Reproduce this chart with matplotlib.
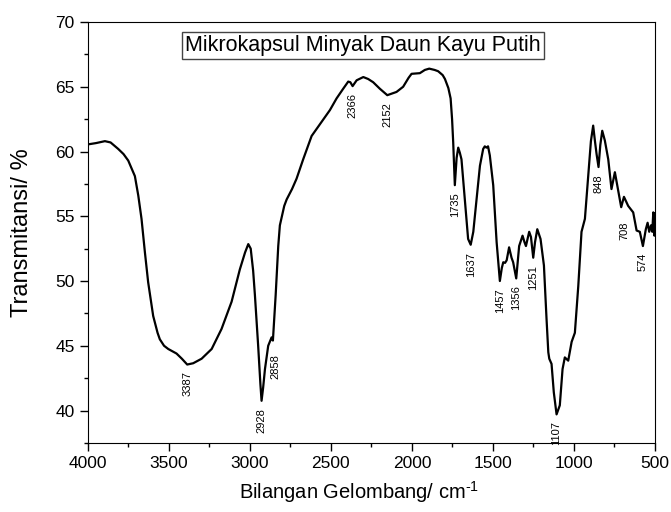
import numpy as np
import matplotlib
matplotlib.use("Agg")
import matplotlib.pyplot as plt
from matplotlib.ticker import MultipleLocator

plt.rcParams['font.family'] = ['Liberation Sans', 'DejaVu Sans']
plt.rcParams['mathtext.default'] = 'regular'

# FTIR spectrum
wavenumber = [4000, 3950, 3895, 3860, 3813, 3780, 3751, 3710, 3689, 3669,
              3648, 3628, 3597, 3570, 3556, 3530, 3504, 3453, 3420, 3387,
              3350, 3298, 3236, 3175, 3113, 3062, 3030, 3010, 2995, 2980,
              2969, 2949, 2935, 2928, 2918, 2907, 2887, 2866, 2858, 2850,
              2841, 2825, 2815, 2788, 2773, 2740, 2712, 2671, 2619, 2568,
              2506, 2465, 2424, 2393, 2380, 2366, 2341, 2300, 2270, 2239,
              2198, 2152, 2095, 2054, 2020, 2002, 1951, 1920, 1893, 1860,
              1838, 1810, 1796, 1775, 1761, 1752, 1745, 1735, 1724, 1714,
              1704, 1694, 1673, 1653, 1637, 1621, 1601, 1580, 1560, 1550,
              1540, 1530, 1519, 1498, 1477, 1457, 1445, 1436, 1425, 1415,
              1400, 1385, 1375, 1356, 1338, 1317, 1305, 1296, 1276, 1265,
              1251, 1240, 1226, 1206, 1185, 1169, 1158, 1152, 1138, 1124,
              1107, 1087, 1070, 1056, 1035, 1014, 994, 973, 953, 932,
              912, 895, 881, 870, 860, 848, 837, 825, 809, 788,
              768, 747, 727, 708, 691, 665, 634, 613, 593, 574,
              556, 545, 535, 524, 516, 510, 503, 500]
transmittance = [60.55, 60.65, 60.8, 60.7, 60.2, 59.8, 59.3, 58.1, 56.6, 54.8,
                 52.2, 49.9, 47.3, 46.0, 45.5, 45.0, 44.75, 44.4, 44.0, 43.55,
                 43.65, 44.0, 44.75, 46.3, 48.4, 50.9, 52.2, 52.85, 52.5, 50.8,
                 48.9, 45.0, 42.0, 40.75, 41.8, 43.2, 45.0, 45.65, 45.4, 47.0,
                 48.9, 52.7, 54.3, 55.8, 56.3, 57.1, 57.9, 59.4, 61.2, 62.1,
                 63.2, 64.1, 64.85, 65.4, 65.35, 65.05, 65.5, 65.75, 65.6, 65.35,
                 64.85, 64.35, 64.6, 65.0, 65.7, 66.0, 66.05, 66.3, 66.4, 66.3,
                 66.2, 65.9, 65.6, 64.9, 64.1, 62.5, 60.7, 57.4, 59.5, 60.3,
                 59.9, 59.4, 56.3, 53.25, 52.8, 53.8, 56.3, 58.9, 60.2, 60.4,
                 60.3, 60.4, 59.7, 57.4, 53.0, 50.0, 51.0, 51.45, 51.4, 51.6,
                 52.6, 51.8, 51.45, 50.2, 52.7, 53.5, 53.0, 52.7, 53.8, 53.4,
                 51.8, 53.0, 54.0, 53.25, 51.2, 47.1, 44.5, 44.0, 43.6, 41.4,
                 39.7, 40.4, 43.2, 44.1, 43.85, 45.3, 46.0, 49.6, 53.8, 54.8,
                 58.1, 60.8, 62.0, 60.8, 59.8, 58.8, 60.5, 61.6, 60.85, 59.4,
                 57.1, 58.4, 57.0, 55.7, 56.5, 55.8, 55.3, 53.9, 53.8, 52.7,
                 54.0, 54.5, 53.8, 54.3, 53.8, 55.3, 53.5, 55.2]

peak_labels = [3387, 2928, 2858, 2366, 2152, 1735, 1637, 1457, 1356, 1251,
               1107, 848, 708, 574]

title_text = "Mikrokapsul Minyak Daun Kayu Putih"

fig = plt.figure(figsize=(6.71, 5.12), dpi=100)
ax = fig.add_axes([0.131, 0.135, 0.845, 0.822])

ax.plot(wavenumber, transmittance, color='black', lw=1.6)

# peak annotations, rotated, just below each band
for wn in peak_labels:
    t = transmittance[wavenumber.index(wn)]
    dy = -14 if wn in (2858, 708) else -7
    dx = 3 if wn in (2858, 708) else 0
    ax.annotate(str(wn), xy=(wn, t), xytext=(dx, dy), textcoords='offset pixels',
                rotation=90, ha='center', va='top', fontsize=8, annotation_clip=False)

ax.set_xlim(4000, 500)
ax.set_ylim(37.5, 70)
ax.xaxis.set_major_locator(MultipleLocator(500))
ax.xaxis.set_minor_locator(MultipleLocator(250))
ax.yaxis.set_major_locator(MultipleLocator(5))
ax.yaxis.set_minor_locator(MultipleLocator(2.5))
ax.tick_params(which='major', direction='out', length=6, width=1, labelsize=12.5)
ax.tick_params(which='minor', direction='out', length=3, width=1)

ax.set_xlabel('Bilangan Gelombang/ cm$^{\u2010 1}$', fontsize=14.5)
ax.xaxis.set_label_coords(0.478, -0.085)
ax.set_ylabel('Transmitansi/ %', fontsize=17)
ax.yaxis.set_label_coords(-0.097, 0.5)

ax.text(0.485, 0.944, title_text, transform=ax.transAxes, ha='center', va='center',
        fontsize=15.5, bbox=dict(boxstyle='square,pad=0.15', fc='white', ec='#444444', lw=1))

fig.savefig('out.png', dpi=100)
